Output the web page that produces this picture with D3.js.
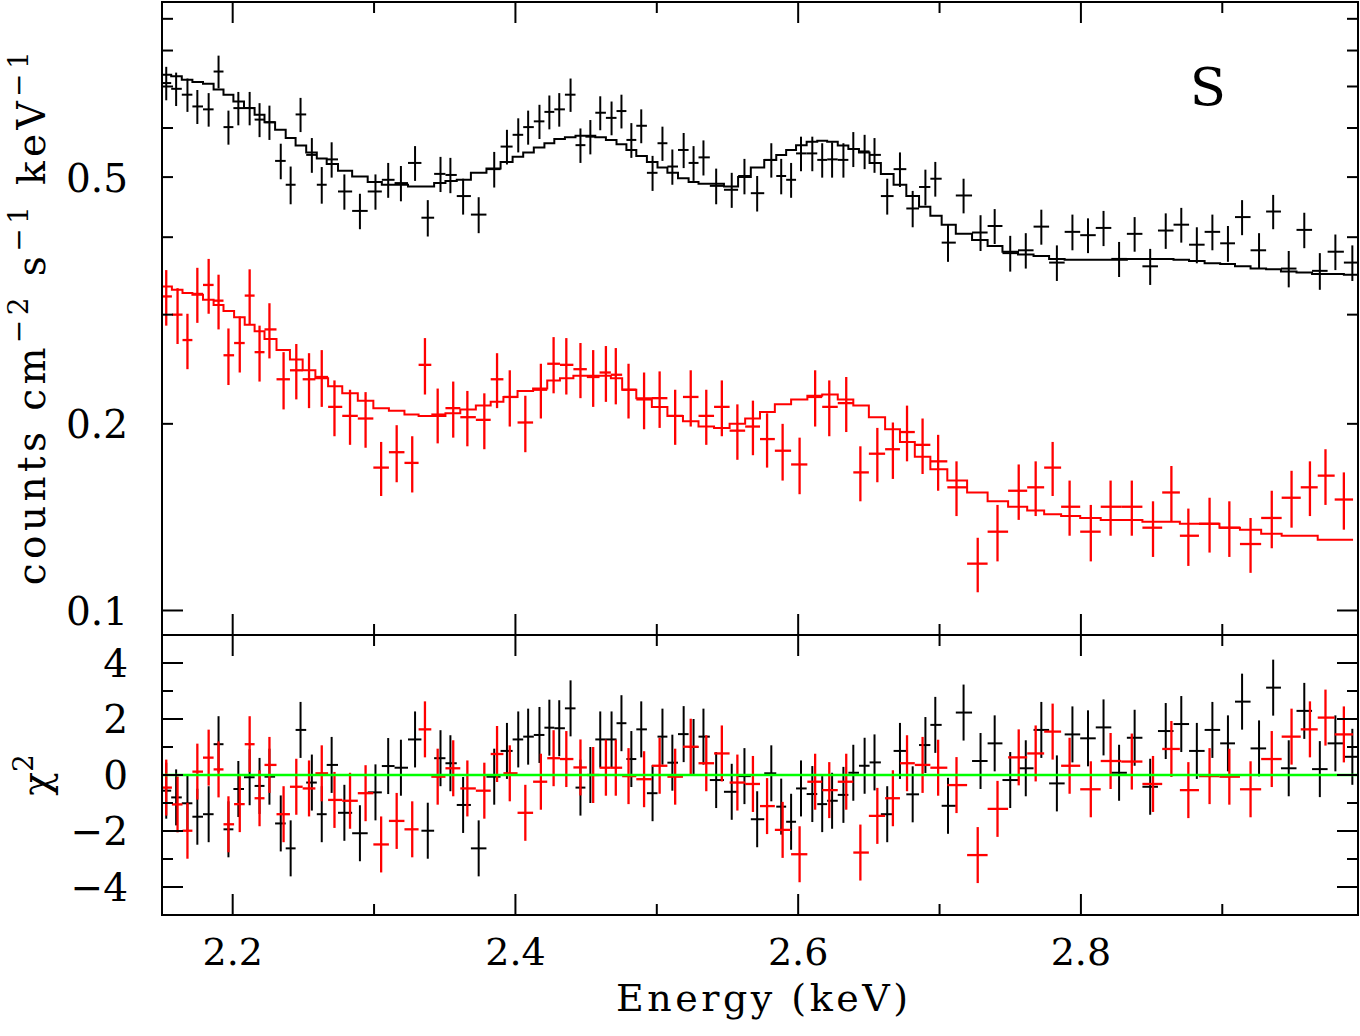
<!DOCTYPE html>
<html>
<head>
<meta charset="utf-8">
<script src="https://cdn.jsdelivr.net/npm/d3@7"></script>
<style>
  body { margin: 0; background: #fff; }
  svg { display: block; }
  text { font-family: "DejaVu Serif", serif; fill: #000; }
</style>
</head>
<body>
<svg id="chart" width="1360" height="1036"></svg>
<script>
// Black spectrum: bin centres (keV), counts, errors, folded model, residuals (chi)
const blackE = [2.153, 2.160, 2.168, 2.175, 2.183, 2.190, 2.197, 2.204, 2.212, 2.219,
  2.226, 2.234, 2.241, 2.248, 2.256, 2.263, 2.270, 2.279, 2.290, 2.301,
  2.310, 2.319, 2.329, 2.338, 2.347, 2.354, 2.363, 2.374, 2.385, 2.394,
  2.402, 2.409, 2.417, 2.424, 2.431, 2.439, 2.446, 2.453, 2.460, 2.468,
  2.475, 2.482, 2.489, 2.497, 2.504, 2.511, 2.519, 2.526, 2.533, 2.542,
  2.553, 2.562, 2.571, 2.581, 2.588, 2.595, 2.602, 2.610, 2.617, 2.624,
  2.632, 2.639, 2.647, 2.654, 2.663, 2.672, 2.681, 2.690, 2.697, 2.706,
  2.717, 2.729, 2.739, 2.750, 2.761, 2.772, 2.783, 2.794, 2.805, 2.816,
  2.827, 2.838, 2.849, 2.860, 2.871, 2.882, 2.893, 2.904, 2.914, 2.926,
  2.936, 2.947, 2.958, 2.969, 2.980, 2.992];
const blackY = [0.709, 0.694, 0.679, 0.650, 0.643, 0.740, 0.602, 0.646, 0.646, 0.619,
  0.613, 0.531, 0.486, 0.631, 0.543, 0.486, 0.534, 0.474, 0.441, 0.474,
  0.495, 0.489, 0.527, 0.430, 0.506, 0.504, 0.466, 0.435, 0.515, 0.560,
  0.585, 0.602, 0.615, 0.637, 0.643, 0.679, 0.563, 0.581, 0.635, 0.623,
  0.639, 0.574, 0.605, 0.508, 0.567, 0.520, 0.553, 0.527, 0.538, 0.484,
  0.477, 0.502, 0.471, 0.533, 0.502, 0.495, 0.546, 0.546, 0.533, 0.534,
  0.533, 0.555, 0.550, 0.543, 0.466, 0.515, 0.445, 0.482, 0.497, 0.392,
  0.467, 0.407, 0.417, 0.377, 0.381, 0.416, 0.364, 0.408, 0.403, 0.414,
  0.369, 0.405, 0.359, 0.410, 0.419, 0.389, 0.408, 0.391, 0.431, 0.381,
  0.440, 0.356, 0.411, 0.353, 0.379, 0.364];
const blackErr = [0.044, 0.043, 0.042, 0.041, 0.040, 0.045, 0.038, 0.040, 0.040, 0.039,
  0.039, 0.035, 0.034, 0.040, 0.035, 0.033, 0.035, 0.031, 0.029, 0.031,
  0.032, 0.032, 0.034, 0.029, 0.033, 0.033, 0.031, 0.029, 0.034, 0.036,
  0.037, 0.038, 0.039, 0.040, 0.040, 0.042, 0.036, 0.037, 0.040, 0.039,
  0.040, 0.037, 0.038, 0.033, 0.036, 0.034, 0.036, 0.034, 0.035, 0.032,
  0.031, 0.033, 0.031, 0.034, 0.033, 0.032, 0.035, 0.035, 0.034, 0.035,
  0.034, 0.036, 0.035, 0.035, 0.031, 0.033, 0.030, 0.032, 0.032, 0.027,
  0.030, 0.027, 0.027, 0.025, 0.025, 0.027, 0.024, 0.027, 0.026, 0.027,
  0.024, 0.026, 0.024, 0.027, 0.027, 0.026, 0.027, 0.026, 0.028, 0.025,
  0.028, 0.024, 0.027, 0.024, 0.025, 0.024];
const blackModel = [0.731, 0.727, 0.718, 0.712, 0.707, 0.692, 0.679, 0.662, 0.646, 0.630,
  0.613, 0.596, 0.578, 0.562, 0.548, 0.536, 0.525, 0.512, 0.501, 0.491,
  0.486, 0.486, 0.483, 0.483, 0.489, 0.493, 0.495, 0.508, 0.516, 0.529,
  0.539, 0.548, 0.558, 0.567, 0.576, 0.580, 0.583, 0.583, 0.580, 0.574,
  0.565, 0.553, 0.541, 0.529, 0.518, 0.508, 0.498, 0.491, 0.488, 0.488,
  0.483, 0.500, 0.518, 0.533, 0.543, 0.553, 0.563, 0.570, 0.572, 0.570,
  0.562, 0.555, 0.548, 0.527, 0.506, 0.486, 0.466, 0.448, 0.433, 0.419,
  0.405, 0.396, 0.387, 0.379, 0.375, 0.373, 0.369, 0.368, 0.368, 0.368,
  0.368, 0.369, 0.369, 0.369, 0.368, 0.366, 0.363, 0.362, 0.359, 0.356,
  0.355, 0.352, 0.351, 0.349, 0.349, 0.348];
const blackRes = [-0.56, -0.80, -1.01, -1.49, -1.40, 1.10, -1.94, -0.50, -0.08, -0.39,
  -0.06, -1.73, -2.62, 1.61, -0.27, -1.40, 0.36, -1.35, -2.08, -0.62,
  0.32, 0.26, 1.27, -1.99, 0.60, 0.42, -1.07, -2.62, -0.06, 0.86,
  1.27, 1.37, 1.43, 1.69, 1.67, 2.38, -0.45, 0.00, 1.27, 1.27,
  1.85, 0.57, 1.63, -0.65, 1.37, 0.44, 1.46, 1.00, 1.37, -0.18,
  -0.60, -0.04, -1.58, 0.06, -1.13, -1.67, -0.48, -0.68, -1.04, -0.92,
  -0.71, 0.08, 0.33, 0.45, -1.40, 0.86, -0.69, 1.07, 1.79, -1.10,
  2.23, 0.50, 1.13, -0.18, 0.24, 1.61, -0.30, 1.45, 1.31, 1.70,
  0.08, 1.33, -0.42, 1.57, 1.82, 0.86, 1.61, 1.13, 2.62, 0.95,
  3.12, 0.24, 2.29, 0.21, 1.13, 0.65];

// Red spectrum
const redE = [2.153, 2.161, 2.168, 2.175, 2.183, 2.190, 2.197, 2.205, 2.212, 2.219,
  2.226, 2.236, 2.245, 2.254, 2.263, 2.272, 2.283, 2.294, 2.305, 2.316,
  2.327, 2.336, 2.345, 2.356, 2.366, 2.378, 2.387, 2.396, 2.407, 2.418,
  2.427, 2.436, 2.446, 2.455, 2.464, 2.471, 2.480, 2.491, 2.502, 2.513,
  2.524, 2.535, 2.546, 2.557, 2.568, 2.578, 2.589, 2.601, 2.612, 2.622,
  2.634, 2.644, 2.656, 2.667, 2.677, 2.688, 2.699, 2.712, 2.727, 2.741,
  2.756, 2.768, 2.780, 2.792, 2.807, 2.821, 2.836, 2.851, 2.864, 2.876,
  2.891, 2.905, 2.920, 2.935, 2.949, 2.962, 2.973, 2.986];
const redY = [0.321, 0.300, 0.273, 0.324, 0.335, 0.316, 0.258, 0.270, 0.322, 0.261,
  0.284, 0.236, 0.244, 0.236, 0.238, 0.213, 0.206, 0.204, 0.170, 0.180,
  0.173, 0.249, 0.207, 0.212, 0.205, 0.203, 0.236, 0.221, 0.201, 0.227,
  0.250, 0.249, 0.245, 0.238, 0.242, 0.240, 0.227, 0.219, 0.220, 0.206,
  0.221, 0.206, 0.213, 0.195, 0.198, 0.189, 0.181, 0.172, 0.221, 0.213,
  0.216, 0.167, 0.179, 0.182, 0.194, 0.185, 0.174, 0.158, 0.119, 0.134,
  0.156, 0.158, 0.170, 0.147, 0.134, 0.147, 0.147, 0.136, 0.155, 0.132,
  0.138, 0.136, 0.128, 0.141, 0.152, 0.158, 0.165, 0.151];
const redErr = [0.033, 0.031, 0.028, 0.033, 0.034, 0.032, 0.027, 0.028, 0.033, 0.027,
  0.029, 0.025, 0.025, 0.024, 0.025, 0.022, 0.021, 0.021, 0.017, 0.019,
  0.018, 0.026, 0.021, 0.022, 0.021, 0.021, 0.024, 0.023, 0.021, 0.023,
  0.026, 0.026, 0.025, 0.025, 0.025, 0.025, 0.023, 0.023, 0.023, 0.021,
  0.023, 0.021, 0.022, 0.020, 0.020, 0.019, 0.019, 0.018, 0.023, 0.022,
  0.022, 0.017, 0.018, 0.019, 0.020, 0.019, 0.018, 0.016, 0.012, 0.014,
  0.016, 0.016, 0.017, 0.015, 0.014, 0.015, 0.015, 0.014, 0.016, 0.014,
  0.014, 0.014, 0.013, 0.015, 0.016, 0.016, 0.017, 0.016];
const redModel = [0.333, 0.329, 0.325, 0.323, 0.317, 0.311, 0.304, 0.297, 0.289, 0.282,
  0.274, 0.263, 0.254, 0.244, 0.237, 0.230, 0.224, 0.218, 0.212, 0.210,
  0.207, 0.206, 0.206, 0.208, 0.211, 0.214, 0.217, 0.221, 0.226, 0.228,
  0.235, 0.237, 0.239, 0.239, 0.239, 0.237, 0.227, 0.220, 0.213, 0.206,
  0.202, 0.198, 0.197, 0.200, 0.204, 0.209, 0.215, 0.219, 0.222, 0.223,
  0.219, 0.214, 0.205, 0.196, 0.187, 0.177, 0.169, 0.162, 0.155, 0.150,
  0.147, 0.145, 0.143, 0.142, 0.141, 0.140, 0.140, 0.139, 0.139, 0.138,
  0.138, 0.136, 0.135, 0.133, 0.132, 0.132, 0.130, 0.130];
const redRes = [-0.45, -1.05, -1.99, 0.12, 0.62, 0.20, -1.76, -1.04, 1.10, -0.83,
  0.36, -1.40, -0.42, -0.48, 0.06, -0.89, -0.92, -0.65, -2.48, -1.64,
  -1.94, 1.63, -0.06, 0.24, -0.48, -0.56, 0.75, 0.06, -1.35, -0.24,
  0.60, 0.57, 0.27, 0.00, 0.26, 0.26, -0.04, -0.15, 0.33, -0.06,
  1.01, 0.42, 0.77, -0.27, -0.32, -1.11, -1.96, -2.83, -0.24, -0.54,
  -0.24, -2.77, -1.46, -0.83, 0.42, 0.36, 0.26, -0.36, -2.86, -1.21,
  0.63, 0.77, 1.55, 0.33, -0.51, 0.50, 0.48, -0.32, 0.93, -0.54,
  -0.04, -0.06, -0.51, 0.57, 1.37, 1.63, 2.05, 1.45];

// axis ticks and labels
const xMajor = [2.2, 2.4, 2.6, 2.8];
const xMinor = [2.3, 2.5, 2.7, 2.9];
const xLabels = ["2.2", "2.4", "2.6", "2.8"];
const topMajor = [0.1];
const topMinor = [0.2, 0.3, 0.4, 0.5, 0.6, 0.7, 0.8, 0.9];
const topLabelVals = [0.1, 0.2, 0.5];
const topLabels = ["0.1", "0.2", "0.5"];
const resMajor = [-4, -2, 0, 2, 4];
const resMinor = [-3, -1, 1, 3];
const resLabels = ["\u22124", "\u22122", "0", "2", "4"];

const padL = 162, padR = 1358, padT = 2, padMid = 635, padB = 915;

const svg = d3.select("#chart");

const x = d3.scaleLinear().domain([2.15, 2.996]).range([padL, padR]);
const yTop = d3.scaleLog().domain([0.0913, 0.958]).range([padMid, padT]);
const yRes = d3.scaleLinear().domain([-5, 5]).range([padB, padMid]);

// bins are contiguous: edges halfway between centres
function binEdges(c) {
  const lo = c.map((v, i) => i === 0 ? v - (c[1] - c[0]) / 2 : (c[i - 1] + v) / 2);
  const hi = c.map((v, i) => i === c.length - 1 ? v + (v - c[i - 1]) / 2 : (v + c[i + 1]) / 2);
  return { lo, hi };
}

const defs = svg.append("defs");
defs.append("clipPath").attr("id", "clipTop")
  .append("rect").attr("x", padL).attr("y", padT).attr("width", padR - padL).attr("height", padMid - padT);
defs.append("clipPath").attr("id", "clipRes")
  .append("rect").attr("x", padL).attr("y", padMid).attr("width", padR - padL).attr("height", padB - padMid);

const gTop = svg.append("g").attr("clip-path", "url(#clipTop)");
const gRes = svg.append("g").attr("clip-path", "url(#clipRes)");

function drawSet(E, Y, err, model, res, color, sw) {
  const { lo, hi } = binEdges(E);
  const pts = E.map((e, i) => ({ e, lo: lo[i], hi: hi[i], y: Y[i], err: err[i], m: model[i], r: res[i] }));

  // spectrum crosses
  const g = gTop.append("g").attr("stroke", color).attr("stroke-width", sw);
  g.selectAll(".h").data(pts).join("line").attr("class", "h")
    .attr("x1", d => x(d.lo)).attr("x2", d => x(d.hi))
    .attr("y1", d => yTop(d.y)).attr("y2", d => yTop(d.y));
  g.selectAll(".v").data(pts).join("line").attr("class", "v")
    .attr("x1", d => x(d.e)).attr("x2", d => x(d.e))
    .attr("y1", d => yTop(d.y - d.err)).attr("y2", d => yTop(d.y + d.err));

  // model histogram
  const stepPts = pts.map(d => [d.lo, d.m]);
  stepPts.push([pts[pts.length - 1].hi, pts[pts.length - 1].m]);
  const line = d3.line().x(d => x(d[0])).y(d => yTop(d[1])).curve(d3.curveStepAfter);
  gTop.append("path").attr("d", line(stepPts))
    .attr("fill", "none").attr("stroke", color).attr("stroke-width", 2);

  // residuals, error bars of one sigma
  const r = gRes.append("g").attr("stroke", color).attr("stroke-width", sw);
  r.selectAll(".h").data(pts).join("line").attr("class", "h")
    .attr("x1", d => x(d.lo)).attr("x2", d => x(d.hi))
    .attr("y1", d => yRes(d.r)).attr("y2", d => yRes(d.r));
  r.selectAll(".v").data(pts).join("line").attr("class", "v")
    .attr("x1", d => x(d.e)).attr("x2", d => x(d.e))
    .attr("y1", d => yRes(d.r - 1)).attr("y2", d => yRes(d.r + 1));
}

drawSet(blackE, blackY, blackErr, blackModel, blackRes, "#000", 2);
drawSet(redE, redY, redErr, redModel, redRes, "#ff0000", 2.3);

// zero line of the residual panel
gRes.append("line")
  .attr("x1", padL).attr("x2", padR)
  .attr("y1", yRes(0)).attr("y2", yRes(0))
  .attr("stroke", "#00ff00").attr("stroke-width", 2.5);

// frames
const frame = svg.append("g").attr("fill", "none").attr("stroke", "#000").attr("stroke-width", 2);
frame.append("rect").attr("x", padL).attr("y", padT).attr("width", padR - padL).attr("height", padB - padT);
frame.append("line").attr("x1", padL).attr("x2", padR).attr("y1", padMid).attr("y2", padMid);

// ticks
const tk = svg.append("g").attr("stroke", "#000").attr("stroke-width", 2);
function xTicks(vals, len) {
  [[padT, 1], [padMid, -1], [padMid, 1], [padB, -1]].forEach(([edge, dir]) => {
    tk.append("g").selectAll("line").data(vals).join("line")
      .attr("x1", d => x(d)).attr("x2", d => x(d))
      .attr("y1", edge).attr("y2", edge + dir * len);
  });
}
xTicks(xMajor, 21);
xTicks(xMinor, 11);

function yTicks(scale, vals, len) {
  [[padL, 1], [padR, -1]].forEach(([edge, dir]) => {
    tk.append("g").selectAll("line").data(vals).join("line")
      .attr("x1", edge).attr("x2", edge + dir * len)
      .attr("y1", d => scale(d)).attr("y2", d => scale(d));
  });
}
yTicks(yTop, topMajor, 21);
yTicks(yTop, topMinor, 11);
yTicks(yRes, resMajor, 21);
yTicks(yRes, resMinor, 11);

// tick labels
svg.append("g").selectAll("text").data(xMajor).join("text")
  .attr("x", d => x(d)).attr("y", 965)
  .attr("text-anchor", "middle").style("font-size", "38px")
  .text((d, i) => xLabels[i]);

svg.append("g").selectAll("text").data(topLabelVals).join("text")
  .attr("x", 128).attr("y", d => yTop(d) + 14.5)
  .attr("text-anchor", "end").style("font-size", "39px")
  .text((d, i) => topLabels[i]);

svg.append("g").selectAll("text").data(resMajor).join("text")
  .attr("x", 128).attr("y", d => yRes(d) + 14)
  .attr("text-anchor", "end").style("font-size", "39px")
  .text((d, i) => resLabels[i]);

// axis titles
svg.append("text")
  .attr("x", 762).attr("y", 1011)
  .attr("text-anchor", "middle").style("font-size", "38px")
  .attr("textLength", 292).attr("lengthAdjust", "spacing")
  .text("Energy (keV)");

const yt = svg.append("text")
  .attr("transform", "translate(45,316) rotate(-90)")
  .attr("text-anchor", "middle").style("font-size", "39px")
  .style("letter-spacing", "4.4px");
yt.append("tspan").text("counts cm");
yt.append("tspan").attr("dy", -17).style("font-size", "28px").text("\u22122");
yt.append("tspan").attr("dy", 17).text(" s");
yt.append("tspan").attr("dy", -17).style("font-size", "28px").text("\u22121");
yt.append("tspan").attr("dy", 17).text(" keV");
yt.append("tspan").attr("dy", -17).style("font-size", "28px").text("\u22121");

const chi = svg.append("text")
  .attr("transform", "translate(50,775) rotate(-90)")
  .attr("text-anchor", "middle").style("font-size", "39px");
chi.append("tspan").text("\u03c7");
chi.append("tspan").attr("dy", -17).style("font-size", "28px").text("2");

// panel label
svg.append("text")
  .attr("x", 1208).attr("y", 105)
  .attr("text-anchor", "middle").style("font-size", "53px")
  .text("S");
</script>
</body>
</html>
